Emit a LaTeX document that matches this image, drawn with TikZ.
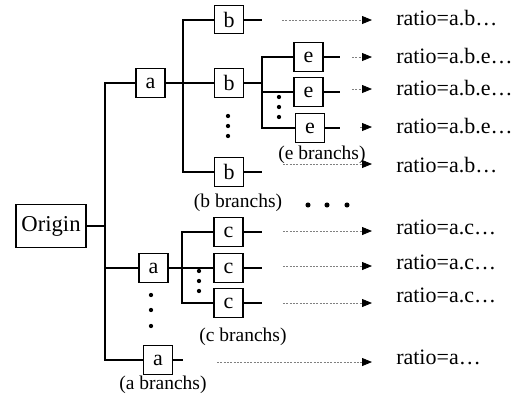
\documentclass[tikz,border=0pt]{standalone}
\usepackage{fontspec}
\setmainfont{Liberation Serif}
\usetikzlibrary{arrows.meta}

\begin{document}
\begin{tikzpicture}[x=0.75pt, y=-0.75pt,
  box/.style={draw, line width=0.8pt, minimum width=21.75pt, minimum height=21.4pt, inner sep=0pt, font=\fontsize{16.5}{18}\selectfont},
  tree/.style={line width=1.5pt},
  flow/.style={gray, line width=0.6pt, dash pattern=on 1.5pt off 1pt, -{Triangle[length=7.5pt, width=6pt, color=black]}, shorten >=18pt},
  ratio/.style={anchor=west, inner sep=0pt, font=\fontsize{16.5}{18}\selectfont},
  branchlabel/.style={inner sep=0pt, font=\fontsize{14.6}{16}\selectfont}]

\useasboundingbox (0, 0) rectangle (518, 405);

% draw boxes
\node[box, minimum width=52.5pt, minimum height=32pt, font=\fontsize{17}{19}\selectfont] (origin) at (51, 226) {Origin};
\node[box] (a1) at (150.5, 83) {a};
\node[box] (a2) at (153.5, 268) {a};
\node[box] (a3) at (158, 360) {a};
\node[box] (b1) at (229, 19.5) {b};
\node[box] (b2) at (229, 83) {b};
\node[box] (b3) at (229, 172) {b};
\node[box] (e1) at (308.5, 57) {e};
\node[box] (e2) at (308.5, 92) {e};
\node[box] (e3) at (310, 128) {e};
\node[box] (c1) at (228.5, 232) {c};
\node[box] (c2) at (228.5, 268) {c};
\node[box] (c3) at (228.5, 303) {c};

% junction columns
\coordinate (sa) at (105, 83);
\coordinate (sb) at (183, 19.5);
\coordinate (sc) at (182, 232);
\coordinate (se) at (262, 57);
\coordinate (ee) at (340, 0);

% draw tree lines
\draw[tree] (origin) -- (origin -| sa);
\draw[tree] (a1) -| (sa) |- (a3);
\draw[tree] (sa |- a2) -- (a2);
\draw[tree] (a3) -- (a3 -| sb);

\draw[tree] (b1) -| (sb) |- (b3);
\draw[tree] (a1) -- (b2);
\draw[tree] (b1) -- (b1 -| se);
\draw[tree] (b3) -- (b3 -| se);

\draw[tree] (b2) -- (b2 -| se);
\draw[tree] (e1) -| (se) |- (e3);
\draw[tree] (se |- e2) -- (e2);
\draw[tree] (e1) -- (e1 -| ee);
\draw[tree] (e2) -- (e2 -| ee);
\draw[tree] (e3) -- (e3 -| ee);

\draw[tree] (c1) -| (sc) |- (c3);
\draw[tree] (a2) -- (c2);
\draw[tree] (c1) -- (c1 -| se);
\draw[tree] (c2) -- (c2 -| se);
\draw[tree] (c3) -- (c3 -| se);

% draw dots
\fill (228, 116) circle (1.6pt) (228, 126) circle (1.6pt) (228, 136) circle (1.6pt);
\fill (279, 97) circle (1.6pt) (279, 107) circle (1.6pt) (279, 117) circle (1.6pt);
\fill (199, 271) circle (1.6pt) (199, 281) circle (1.6pt) (199, 291) circle (1.6pt);
\fill (151, 295) circle (1.6pt) (151, 310) circle (1.6pt) (151, 326) circle (1.6pt);
\fill (308, 205) circle (1.9pt) (327, 205) circle (1.9pt) (347, 205) circle (1.9pt);

% draw ratios
\node[ratio] (rb1) at (396, 18) {ratio=a.b…};
\node[ratio] (re1) at (396, 56) {ratio=a.b.e…};
\node[ratio] (re2) at (396, 88) {ratio=a.b.e…};
\node[ratio] (re3) at (396, 126) {ratio=a.b.e…};
\node[ratio] (rb3) at (396, 165) {ratio=a.b…};
\node[ratio] (rc1) at (396, 227) {ratio=a.c…};
\node[ratio] (rc2) at (396, 262) {ratio=a.c…};
\node[ratio] (rc3) at (396, 295) {ratio=a.c…};
\node[ratio] (ra3) at (396, 357) {ratio=a…};

% draw flow arrows
\coordinate (pb1) at (282, 20);
\coordinate (pe1) at (352, 57);
\coordinate (pe2) at (352, 89);
\coordinate (pe3) at (360, 127);
\coordinate (pb3) at (283, 164);
\coordinate (pc1) at (283, 231);
\coordinate (pc2) at (283, 266);
\coordinate (pc3) at (283, 303);
\coordinate (pa3) at (217, 362);
\draw[flow] (pb1) -- (pb1 -| rb1.west);
\draw[flow] (pe1) -- (pe1 -| re1.west);
\draw[flow] (pe2) -- (pe2 -| re2.west);
\draw[flow] (pe3) -- (pe3 -| re3.west);
\draw[flow] (pb3) -- (pb3 -| rb3.west);
\draw[flow] (pc1) -- (pc1 -| rc1.west);
\draw[flow] (pc2) -- (pc2 -| rc2.west);
\draw[flow] (pc3) -- (pc3 -| rc3.west);
\draw[flow] (pa3) -- (pa3 -| ra3.west);

% draw labels
\node[branchlabel] (eb) at (322, 155) {(e branchs)};
\node[branchlabel] (bb) at (238, 203) {(b branchs)};
\node[branchlabel] (cb) at (243, 337) {(c branchs)};
\node[branchlabel] (ab) at (163, 385) {(a branchs)};

\end{tikzpicture}
\end{document}
